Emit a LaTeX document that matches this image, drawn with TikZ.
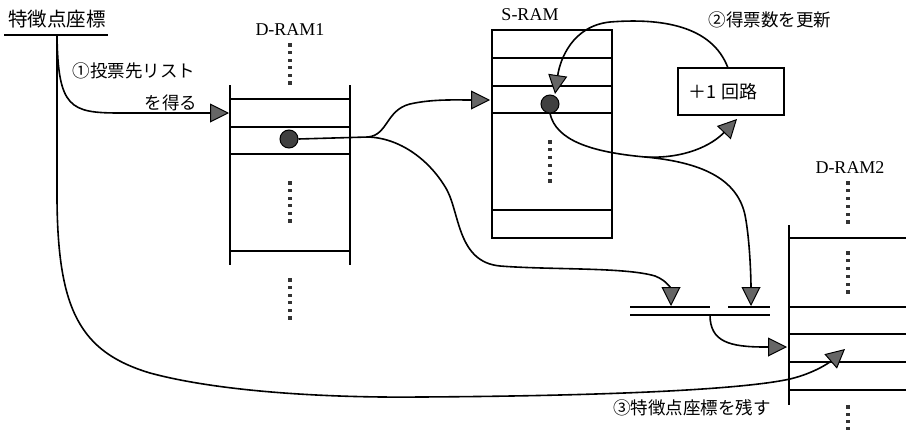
\documentclass[tikz,border=0pt]{standalone}
\usepackage{fontspec}
\setmainfont{Liberation Serif}
\newfontfamily\jp{Noto Sans CJK JP}
\usetikzlibrary{arrows.meta}
\begin{document}
\begin{tikzpicture}[x=1pt,y=-1pt,
  box/.style={line width=1.9pt},
  conn/.style={line width=1.6pt},
  arr/.style={conn,-{Triangle[length=19pt,width=19pt,fill=black!60,line width=1pt]}},
  ramlab/.style={font=\fontsize{18}{18}\selectfont, inner sep=0pt},
  jlab/.style={font=\jp\fontsize{17.5}{17.5}\selectfont, inner sep=0pt},
  ball/.style={circle, fill=black!75, draw=black, line width=1pt, minimum size=18pt, inner sep=0pt},
  sq/.style={fill=black!80},
]
\useasboundingbox (0,0) rectangle (906,434);

% ---------- labels ----------
\node[jlab, font=\jp\fontsize{19.5}{19.5}\selectfont] (tok) at (57,19) {特徴点座標};
\node[jlab] (lab1a) at (134,71) {①投票先リスト};
\node[jlab] (lab1b) at (171,103) {を得る};
\node[jlab] (lab2) at (770,20) {②得票数を更新};
\node[jlab] (lab3) at (692,408) {③特徴点座標を残す};
\node[ramlab] (dram1) at (290,30) {D-RAM1};
\node[ramlab] (sram) at (530,15) {S-RAM};
\node[ramlab] (dram2) at (850,168) {D-RAM2};

% ---------- underline of 特徴点座標 ----------
\coordinate (ulL) at (4,35);
\coordinate (ulR) at (108,35);
\coordinate (src) at (57,35);
\draw[conn] (ulL) -- (ulR);

% ---------- D-RAM1 ----------
\draw[box] (230,85) -- (230,265);
\draw[box] (350,85) -- (350,265);
\foreach \yy in {99,127,154,251} \draw[box] (230,\yy) -- (350,\yy);
\foreach \yy in {45,183,280} \foreach \i in {0,...,5}
  \fill[sq] ({290-1.6},{\yy+7.6*\i-1.6}) rectangle ++(3.2,3.2);
\node[ball] (b1) at (289,139) {};

% ---------- S-RAM ----------
\draw[box] (492,30) rectangle (612,238);
\foreach \yy in {58,86,113,210} \draw[box] (492,\yy) -- (612,\yy);
\foreach \i in {0,...,5}
  \fill[sq] ({550-1.6},{142+7.8*\i-1.6}) rectangle ++(3.2,3.2);
\node[ball] (b2) at (550,104) {};

% ---------- +1 circuit ----------
\node[draw, line width=1.6pt, minimum width=106pt, minimum height=47pt,
      inner xsep=10pt, text width=86pt, align=left,
      font=\jp\fontsize{18}{18}\selectfont] (plus) at (731,91.5) {＋1 回路};

% ---------- D-RAM2 ----------
\draw[box] (789,225) -- (789,405);
\foreach \yy in {238,307,334,362,390} \draw[box] (789,\yy) -- (906,\yy);
\foreach \yy in {183,253} \foreach \i in {0,...,5}
  \fill[sq] ({848-1.6},{\yy+7.8*\i-1.6}) rectangle ++(3.2,3.2);
\foreach \i in {0,...,3}
  \fill[sq] ({848-1.6},{407+7.2*\i-1.6}) rectangle ++(3.2,3.2);

% ---------- merge bars ----------
\coordinate (barAL) at (630,307); \coordinate (barAR) at (710,307);
\coordinate (barBL) at (728,307); \coordinate (barBR) at (770,307);
\coordinate (barCL) at (630,315); \coordinate (barCR) at (770,315);
\coordinate (barOut) at (710,315);
\draw[box] (barAL) -- (barAR);
\draw[box] (barBL) -- (barBR);
\draw[box] (barCL) -- (barCR);

% ---------- connection points ----------
\coordinate (d1in) at (229,113);
\coordinate (split1) at (368,137);
\coordinate (srin) at (490,100);
\coordinate (barAin) at (671,306);
\coordinate (barBin) at (751,306);
\coordinate (splus) at (555,94);
\coordinate (ptop) at (728,68);
\coordinate (pbot) at (737,119);
\coordinate (split2) at (645,157);
\coordinate (d2inA) at (787,347);
\coordinate (d2inB) at (845,349);

% ---------- connectors ----------
% (1) get vote list
\draw[arr] (src) .. controls (58,108) and (70,113) .. (120,113) -- (d1in);
% (3) keep coordinates
\draw[arr] (src) -- (57,200) .. controls (58,310) and (80,352) .. (150,373)
   .. controls (220,392) and (330,398) .. (420,397)
   .. controls (600,396) and (740,390) .. (790,379)
   .. controls (815,373) and (830,362) .. (d2inB);
% D-RAM1 ball -> S-RAM and -> bar
\draw[conn] (b1.east) -- (split1);
\draw[arr] (split1) .. controls (388,135) and (386,110) .. (410,104)
   .. controls (432,99) and (455,100) .. (srin);
\draw[arr] (split1) .. controls (400,138) and (430,160) .. (447,190)
   .. controls (460,215) and (458,262) .. (500,266)
   .. controls (550,270) and (625,267) .. (655,276)
   .. controls (668,281) and (671,290) .. (barAin);
% (2) update vote count
\draw[arr] (ptop) .. controls (712,25) and (660,18) .. (610,22)
   .. controls (572,26) and (560,60) .. (splus);
\draw[conn] (b2.south) .. controls (556,140) and (590,152) .. (split2);
\draw[arr] (split2) .. controls (685,159) and (712,145) .. (pbot);
\draw[arr] (split2) .. controls (700,162) and (737,178) .. (745,215)
   .. controls (750,240) and (751,280) .. (barBin);
% bar -> D-RAM2
\draw[arr] (barOut) .. controls (710,342) and (730,347) .. (765,347) -- (d2inA);
\end{tikzpicture}
\end{document}
